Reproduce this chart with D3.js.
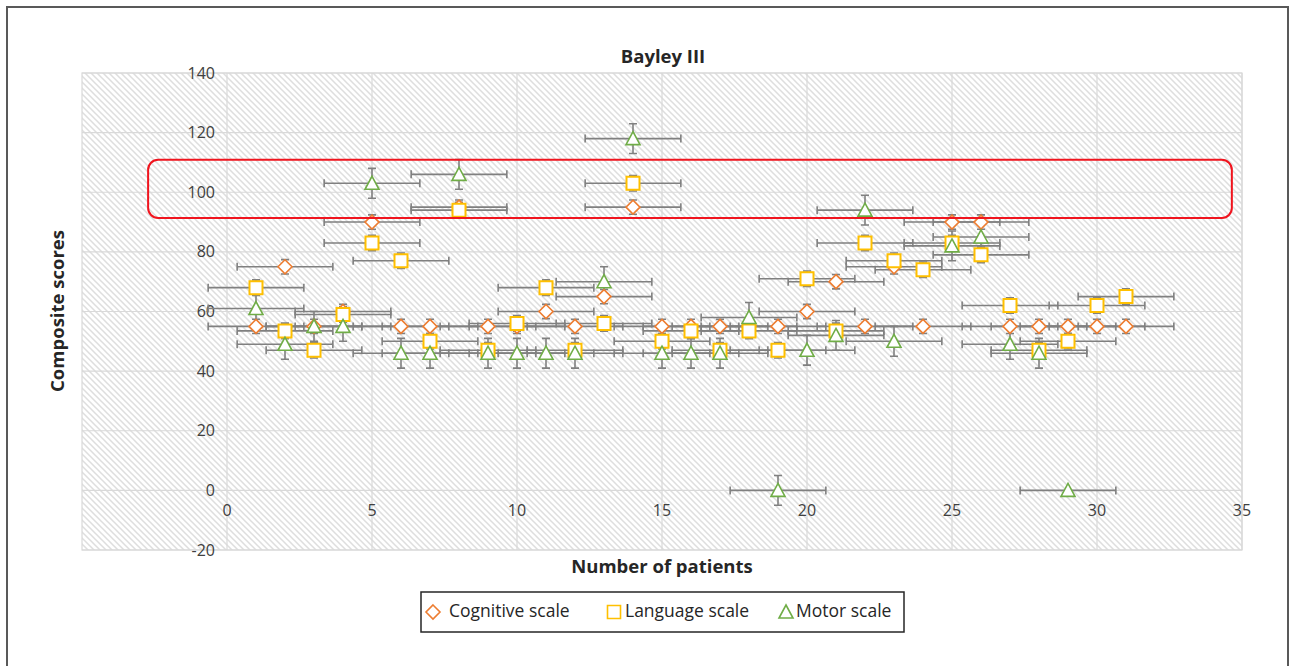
<!DOCTYPE html>
<html>
<head>
<meta charset="utf-8">
<script src="https://cdn.jsdelivr.net/npm/d3@7"></script>
<style>
  body { margin: 0; background: #fff; }
  svg { font-family: "Open Sans", "Lato", sans-serif; }
  .oznaka { font-size: 16px; fill: #404040; }
  .naslov { font-size: 18.5px; font-weight: bold; fill: #262626; }
  .naslov-osi { font-size: 18.5px; font-weight: bold; fill: #262626; }
  .legenda-tekst { font-size: 17.5px; fill: #262626; }
  .greska { stroke: #808080; stroke-width: 1.6; fill: none; }
  .mreza { stroke: #d9d9d9; stroke-width: 1.2; }
</style>
</head>
<body>
<div id="okvir"></div>
<script>
// podaci procitani sa slike
const pacijenti = [1, 2, 3, 4, 5, 6, 7, 8, 9, 10, 11, 12, 13, 14, 15, 16, 17, 18, 19, 20, 21, 22, 23, 24, 25, 26, 27, 28, 29, 30, 31]
const kognitivna = [55, 75, 55, 60, 90, 55, 55, 95, 55, 55, 60, 55, 65, 95, 55, 55, 55, 55, 55, 60, 70, 55, 75, 55, 90, 90, 55, 55, 55, 55, 55]
const jezicna = [68, 53.5, 47, 59, 83, 77, 50, 94, 47, 56, 68, 47, 56, 103, 50, 53.5, 47, 53.5, 47, 71, 53.5, 83, 77, 74, 83, 79, 62, 47, 50, 62, 65]
const motoricka = [61, 49, 55, 55, 103, 46, 46, 106, 46, 46, 46, 46, 70, 118, 46, 46, 46, 58, 0, 47, 52, 94, 50, null, 82, 85, 49, 46, 0]
const motorickaGreskaY = [5, 5, 5, 5, 5, 5, 5, 5, 5, 5, 5, 5, 5, 5, 5, 5, 5, 5, 5, 5, 5, 5, 5, 5, 5, 5, 5, 5, 0]
const kognitivnaGreskaY = 2.4
const jezicnaGreskaY = 2.6
const greskaX = 1.65

const xOznake = [0, 5, 10, 15, 20, 25, 30, 35]
const yOznake = [-20, 0, 20, 40, 60, 80, 100, 120, 140]
const xDomena = [-5, 35]
const yDomena = [-20, 140]

// istaknuto podrucje (crveni okvir), u jedinicama grafa
const istaknuto = { x0: -2.72, x1: 34.65, y0: 91.4, y1: 110.9 }

const serije = [
  { ime: "Cognitive scale", boja: "#ED7D31", oblik: "romb", vrijednosti: kognitivna, greskaY: kognitivna.map(() => kognitivnaGreskaY) },
  { ime: "Language scale", boja: "#FFC000", oblik: "kvadrat", vrijednosti: jezicna, greskaY: jezicna.map(() => jezicnaGreskaY) },
  { ime: "Motor scale", boja: "#70AD47", oblik: "trokut", vrijednosti: motoricka, greskaY: motorickaGreskaY },
]

function crtajGraf() {

  // 1. Dimenzije
  const dimenzije = {
    sirina: 1292,
    visina: 666,
    podrucje: { left: 82, right: 1242, top: 73, bottom: 550 },
  }

  const okvir = d3.select("#okvir")
    .append("svg")
      .attr("width", dimenzije.sirina)
      .attr("height", dimenzije.visina)

  // srafura pozadine
  const uzorak = okvir.append("defs").append("pattern")
      .attr("id", "srafura")
      .attr("patternUnits", "userSpaceOnUse")
      .attr("width", 6)
      .attr("height", 6)
  uzorak.append("rect")
      .attr("width", 6)
      .attr("height", 6)
      .attr("fill", "#fff")
  uzorak.append("path")
      .attr("d", "M-1,-1 L7,7 M-1,5 L1,7 M5,-1 L7,1")
      .attr("stroke", "#dedede")
      .attr("stroke-width", 1.5)

  // vanjski okvir
  okvir.append("rect")
      .attr("x", 7)
      .attr("y", 7)
      .attr("width", 1281)
      .attr("height", 690)
      .attr("fill", "none")
      .attr("stroke", "#595959")
      .attr("stroke-width", 2)

  // 2. Skale
  const xSkala = d3.scaleLinear()
    .domain(xDomena)
    .range([dimenzije.podrucje.left, dimenzije.podrucje.right])

  const ySkala = d3.scaleLinear()
    .domain(yDomena)
    .range([dimenzije.podrucje.bottom, dimenzije.podrucje.top])

  // 3. Podrucje grafa i mreza
  okvir.append("rect")
      .attr("x", xSkala(xDomena[0]))
      .attr("y", ySkala(yDomena[1]))
      .attr("width", xSkala(xDomena[1]) - xSkala(xDomena[0]))
      .attr("height", ySkala(yDomena[0]) - ySkala(yDomena[1]))
      .attr("fill", "url(#srafura)")
      .attr("stroke", "#d9d9d9")
      .attr("stroke-width", 1.2)

  okvir.append("g").selectAll("line")
    .data(yOznake)
    .join("line")
      .attr("class", "mreza")
      .attr("x1", xSkala(xDomena[0]))
      .attr("x2", xSkala(xDomena[1]))
      .attr("y1", d => ySkala(d))
      .attr("y2", d => ySkala(d))

  okvir.append("g").selectAll("line")
    .data(xOznake)
    .join("line")
      .attr("class", "mreza")
      .attr("x1", d => xSkala(d))
      .attr("x2", d => xSkala(d))
      .attr("y1", ySkala(yDomena[0]))
      .attr("y2", ySkala(yDomena[1]))

  // oznake osi (na x=0 i y=0)
  okvir.append("g").selectAll("text")
    .data(yOznake)
    .join("text")
      .attr("class", "oznaka")
      .attr("x", xSkala(0) - 12)
      .attr("y", d => ySkala(d))
      .attr("dy", "0.35em")
      .attr("text-anchor", "end")
      .text(d => d)

  okvir.append("g").selectAll("text")
    .data(xOznake)
    .join("text")
      .attr("class", "oznaka")
      .attr("x", d => xSkala(d))
      .attr("y", ySkala(0) + 20)
      .attr("dy", "0.35em")
      .attr("text-anchor", "middle")
      .text(d => d)

  // 4. Greske
  const kapa = 4
  const tocke = serije.flatMap((s, i) => s.vrijednosti.map((v, j) => ({
    serija: i, x: pacijenti[j], y: v, gy: s.greskaY[j]
  }))).filter(d => d.y !== null)

  const greske = okvir.append("g")
  tocke.forEach(d => {
    const cx = xSkala(d.x)
    const cy = ySkala(d.y)
    const x0 = xSkala(d.x - greskaX)
    const x1 = xSkala(d.x + greskaX)
    greske.append("path")
        .attr("class", "greska")
        .attr("d", `M${x0},${cy}H${x1}M${x0},${cy - kapa}V${cy + kapa}M${x1},${cy - kapa}V${cy + kapa}`)
    if (d.gy > 0) {
      const y0 = ySkala(d.y - d.gy)
      const y1 = ySkala(d.y + d.gy)
      greske.append("path")
          .attr("class", "greska")
          .attr("d", `M${cx},${y0}V${y1}M${cx - kapa},${y0}H${cx + kapa}M${cx - kapa},${y1}H${cx + kapa}`)
    }
  })

  // 5. Markeri
  const oblici = {
    romb: "M0,-7L7,0L0,7L-7,0Z",
    kvadrat: "M-6.5,-6.5H6.5V6.5H-6.5Z",
    trokut: "M0,-7L7,6H-7Z",
  }

  serije.forEach((s, i) => {
    okvir.append("g").selectAll("path")
      .data(tocke.filter(d => d.serija === i))
      .join("path")
        .attr("transform", d => `translate(${xSkala(d.x)},${ySkala(d.y)})`)
        .attr("d", oblici[s.oblik])
        .attr("fill", "#fff")
        .attr("stroke", s.boja)
        .attr("stroke-width", s.oblik === "kvadrat" ? 2 : 1.6)
  })

  // crveni okvir
  okvir.append("rect")
      .attr("x", xSkala(istaknuto.x0))
      .attr("y", ySkala(istaknuto.y1))
      .attr("width", xSkala(istaknuto.x1) - xSkala(istaknuto.x0))
      .attr("height", ySkala(istaknuto.y0) - ySkala(istaknuto.y1))
      .attr("rx", 10)
      .attr("fill", "none")
      .attr("stroke", "#f0141e")
      .attr("stroke-width", 2)

  // 6. Naslovi
  okvir.append("text")
      .attr("class", "naslov")
      .attr("x", 663)
      .attr("y", 57)
      .attr("dy", "0.35em")
      .attr("text-anchor", "middle")
      .text("Bayley III")

  okvir.append("text")
      .attr("class", "naslov-osi")
      .attr("transform", "translate(58, 311) rotate(-90)")
      .attr("dy", "0.35em")
      .attr("text-anchor", "middle")
      .text("Composite scores")

  okvir.append("text")
      .attr("class", "naslov-osi")
      .attr("x", 662)
      .attr("y", 567)
      .attr("dy", "0.35em")
      .attr("text-anchor", "middle")
      .text("Number of patients")

  // 7. Legenda
  okvir.append("rect")
      .attr("x", 421)
      .attr("y", 592)
      .attr("width", 483)
      .attr("height", 40)
      .attr("fill", "#fff")
      .attr("stroke", "#262626")
      .attr("stroke-width", 1.5)

  const legendaX = [433, 614, 786]
  const legendaTekstX = [449, 625, 796]
  serije.forEach((s, i) => {
    okvir.append("path")
        .attr("transform", `translate(${legendaX[i]}, 612)`)
        .attr("d", oblici[s.oblik])
        .attr("fill", "#fff")
        .attr("stroke", s.boja)
        .attr("stroke-width", 1.6)
    okvir.append("text")
        .attr("class", "legenda-tekst")
        .attr("x", legendaTekstX[i])
        .attr("y", 611)
        .attr("dy", "0.35em")
        .text(s.ime)
  })
}
crtajGraf()
</script>
</body>
</html>
